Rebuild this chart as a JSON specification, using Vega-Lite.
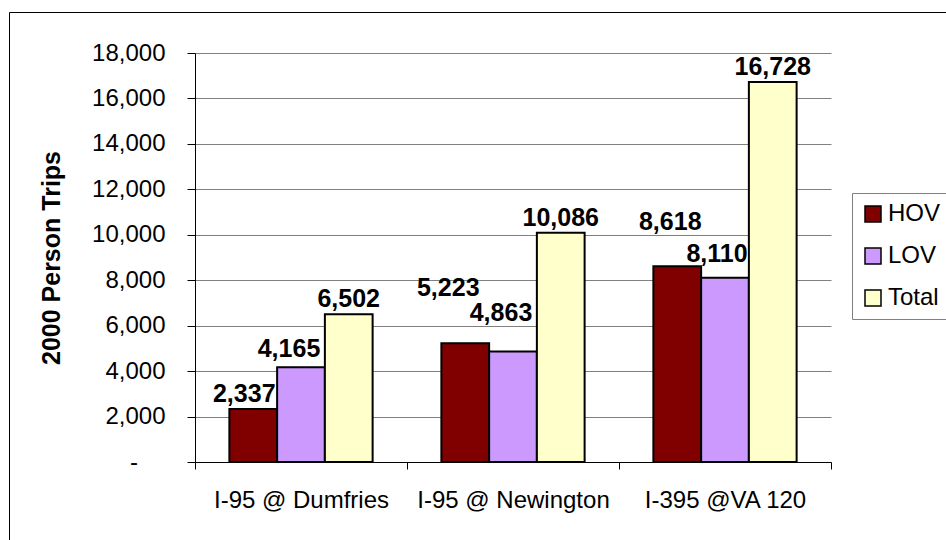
{
  "$schema": "https://vega.github.io/schema/vega-lite/v6.json",
  "width": 940,
  "height": 530,
  "autosize": "none",
  "padding": {"left": 9, "top": 12, "right": 0, "bottom": 0},
  "background": "white",
  "config": {
    "view": {"stroke": "black", "strokeWidth": 1},
    "font": "Liberation Sans",
    "axis": {
      "labelFont": "Liberation Sans",
      "titleFont": "Liberation Sans",
      "labelColor": "black",
      "titleColor": "black",
      "domainColor": "black",
      "tickColor": "black",
      "labelFontSize": 24
    },
    "text": {"font": "Liberation Sans", "fontSize": 25, "fontWeight": "bold", "color": "black", "align": "center", "baseline": "alphabetic"}
  },
  "data": {
    "values": [
      {"site": "I-95 @ Dumfries", "mode": "HOV", "trips": 2337},
      {"site": "I-95 @ Dumfries", "mode": "LOV", "trips": 4165},
      {"site": "I-95 @ Dumfries", "mode": "Total", "trips": 6502},
      {"site": "I-95 @ Newington", "mode": "HOV", "trips": 5223},
      {"site": "I-95 @ Newington", "mode": "LOV", "trips": 4863},
      {"site": "I-95 @ Newington", "mode": "Total", "trips": 10086},
      {"site": "I-395 @VA 120", "mode": "HOV", "trips": 8618},
      {"site": "I-395 @VA 120", "mode": "LOV", "trips": 8110},
      {"site": "I-395 @VA 120", "mode": "Total", "trips": 16728}
    ]
  },
  "encoding": {
    "x": {
      "field": "site",
      "type": "nominal",
      "sort": null,
      "scale": {"range": [186, 822], "paddingInner": 0, "paddingOuter": 0},
      "axis": {
        "orient": "bottom",
        "offset": -80,
        "title": null,
        "tickBand": "extent",
        "tickSize": 7,
        "labelAngle": 0,
        "labelPadding": 19,
        "labelFontSize": 24,
        "labelLimit": 400,
        "grid": false
      }
    },
    "y": {
      "field": "trips",
      "type": "quantitative",
      "scale": {"domain": [0, 18000], "range": [450, 41], "nice": false},
      "axis": {
        "orient": "left",
        "offset": -186,
        "values": [0, 2000, 4000, 6000, 8000, 10000, 12000, 14000, 16000, 18000],
        "labelExpr": "datum.value === 0 ? '-\u2009\u2009\u2800' : format(datum.value, ',')",
        "tickSize": 8,
        "labelPadding": 22,
        "grid": true,
        "gridColor": "#808080",
        "gridWidth": 1,
        "title": "2000 Person Trips",
        "titleFontSize": 25,
        "titleFontWeight": "bold",
        "titlePadding": 27
      }
    }
  },
  "layer": [
    {
      "encoding": {
        "xOffset": {
          "field": "mode",
          "type": "nominal",
          "sort": ["HOV", "LOV", "Total"],
          "scale": {"paddingInner": 0, "paddingOuter": 0.72}
        }
      },
      "layer": [
        {
          "mark": {"type": "bar", "stroke": "black", "strokeWidth": 2},
          "encoding": {
            "color": {
              "field": "mode",
              "type": "nominal",
              "scale": {"domain": ["HOV", "LOV", "Total"], "range": ["#800000", "#CC99FF", "#FFFFCC"]},
              "legend": {
                "title": null,
                "orient": "none",
                "legendX": 843,
                "legendY": 181,
                "symbolType": "square",
                "symbolSize": 256,
                "symbolStrokeColor": "black",
                "symbolStrokeWidth": 1.5,
                "labelFont": "Liberation Sans",
                "labelFontSize": 24,
                "labelColor": "black",
                "labelOffset": 3,
                "rowPadding": 18,
                "padding": 9,
                "strokeColor": "#808080",
                "fillColor": "white"
              }
            }
          }
        },
        {
          "transform": [{"filter": "datum.mode === 'Total'"}],
          "mark": {"type": "text", "dy": -7},
          "encoding": {"text": {"field": "trips", "type": "quantitative", "format": ","}}
        },
        {
          "transform": [{"filter": "datum.site === 'I-95 @ Dumfries' && datum.mode === 'HOV'"}],
          "mark": {"type": "text", "dx": -9, "dy": -7},
          "encoding": {"text": {"field": "trips", "type": "quantitative", "format": ","}}
        },
        {
          "transform": [{"filter": "datum.site === 'I-95 @ Dumfries' && datum.mode === 'LOV'"}],
          "mark": {"type": "text", "dx": -12, "dy": -10},
          "encoding": {"text": {"field": "trips", "type": "quantitative", "format": ","}}
        },
        {
          "transform": [{"filter": "datum.site === 'I-95 @ Newington' && datum.mode === 'HOV'"}],
          "mark": {"type": "text", "dx": -17, "dy": -47},
          "encoding": {"text": {"field": "trips", "type": "quantitative", "format": ","}}
        },
        {
          "transform": [{"filter": "datum.site === 'I-95 @ Newington' && datum.mode === 'LOV'"}],
          "mark": {"type": "text", "dx": -12, "dy": -31},
          "encoding": {"text": {"field": "trips", "type": "quantitative", "format": ","}}
        },
        {
          "transform": [{"filter": "datum.site === 'I-395 @VA 120' && datum.mode === 'HOV'"}],
          "mark": {"type": "text", "dx": -7, "dy": -36},
          "encoding": {"text": {"field": "trips", "type": "quantitative", "format": ","}}
        },
        {
          "transform": [{"filter": "datum.site === 'I-395 @VA 120' && datum.mode === 'LOV'"}],
          "mark": {"type": "text", "dx": -8, "dy": -16},
          "encoding": {"text": {"field": "trips", "type": "quantitative", "format": ","}}
        }
      ]
    },
    {
      "data": {"values": [{"site": "I-395 @VA 120"}]},
      "mark": {"type": "rule", "color": "#808080", "strokeWidth": 1},
      "encoding": {
        "x": {"field": "site", "type": "nominal", "sort": null, "bandPosition": 1},
        "y": {"datum": 0},
        "y2": {"datum": 18000}
      }
    }
  ]
}
